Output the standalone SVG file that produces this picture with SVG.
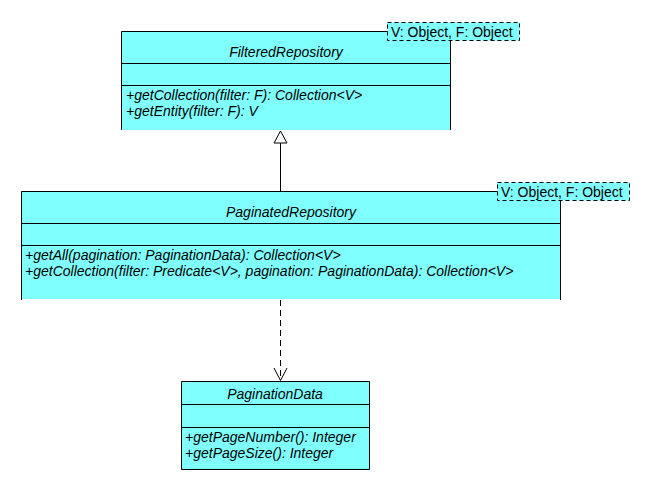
<svg xmlns="http://www.w3.org/2000/svg" width="650" height="490" viewBox="0 0 650 490">
<style>
.fill{fill:#80FFFF;stroke:none}
.ln{stroke:#000;stroke-width:1;fill:none}
.tpl{fill:#80FFFF;stroke:#000;stroke-width:1;stroke-dasharray:4,3}
text{font-family:"Liberation Sans",Arial,sans-serif;font-size:14px;fill:#000}
.it{font-style:italic}
.c{text-anchor:middle}
</style>
<rect width="650" height="490" fill="#fff"/>
<g id="FilteredRepository">
<rect class="fill" x="121" y="31" width="330" height="99"/>
<path class="ln" d="M121.5,130 V31.5 H450.5 V130 M121,63.5 H451 M121,85.5 H451"/>
<rect class="tpl" x="387.5" y="22.5" width="132" height="18"/>
<text x="391" y="37">V: Object, F: Object</text>
<text class="it c" x="286" y="57">FilteredRepository</text>
<text class="it" x="126" y="100">+getCollection(filter: F): Collection&lt;V&gt;</text>
<text class="it" x="126" y="116">+getEntity(filter: F): V</text>
</g>
<g id="PaginatedRepository">
<rect class="fill" x="21" y="191" width="540" height="108"/>
<path class="ln" d="M21.5,300 V191.5 H560.5 V300 M21,223.5 H561 M21,245.5 H561"/>
<rect class="tpl" x="497.5" y="182.5" width="132" height="18"/>
<text x="501" y="197">V: Object, F: Object</text>
<text class="it c" x="291" y="217">PaginatedRepository</text>
<text class="it" x="25" y="260">+getAll(pagination: PaginationData): Collection&lt;V&gt;</text>
<text class="it" x="25" y="276">+getCollection(filter: Predicate&lt;V&gt;, pagination: PaginationData): Collection&lt;V&gt;</text>
</g>
<g id="PaginationData">
<rect class="fill" x="181" y="381" width="189" height="89"/>
<path class="ln" d="M181.5,381.5 H369.5 V469.5 H181.5 Z M181,404.5 H370 M181,427.5 H370"/>
<text class="it c" x="275" y="399">PaginationData</text>
<text class="it" x="185" y="442">+getPageNumber(): Integer</text>
<text class="it" x="185" y="458">+getPageSize(): Integer</text>
</g>
<g id="connectors">
<path class="ln" d="M280.5,191 V143"/>
<path d="M280.5,131 L274,143 H287 Z" fill="#fff" stroke="#000"/>
<path class="ln" d="M280.5,300 V380" stroke-dasharray="6,4"/>
<path class="ln" d="M274,368 L280.5,380.5 L287,368"/>
</g>
</svg>
